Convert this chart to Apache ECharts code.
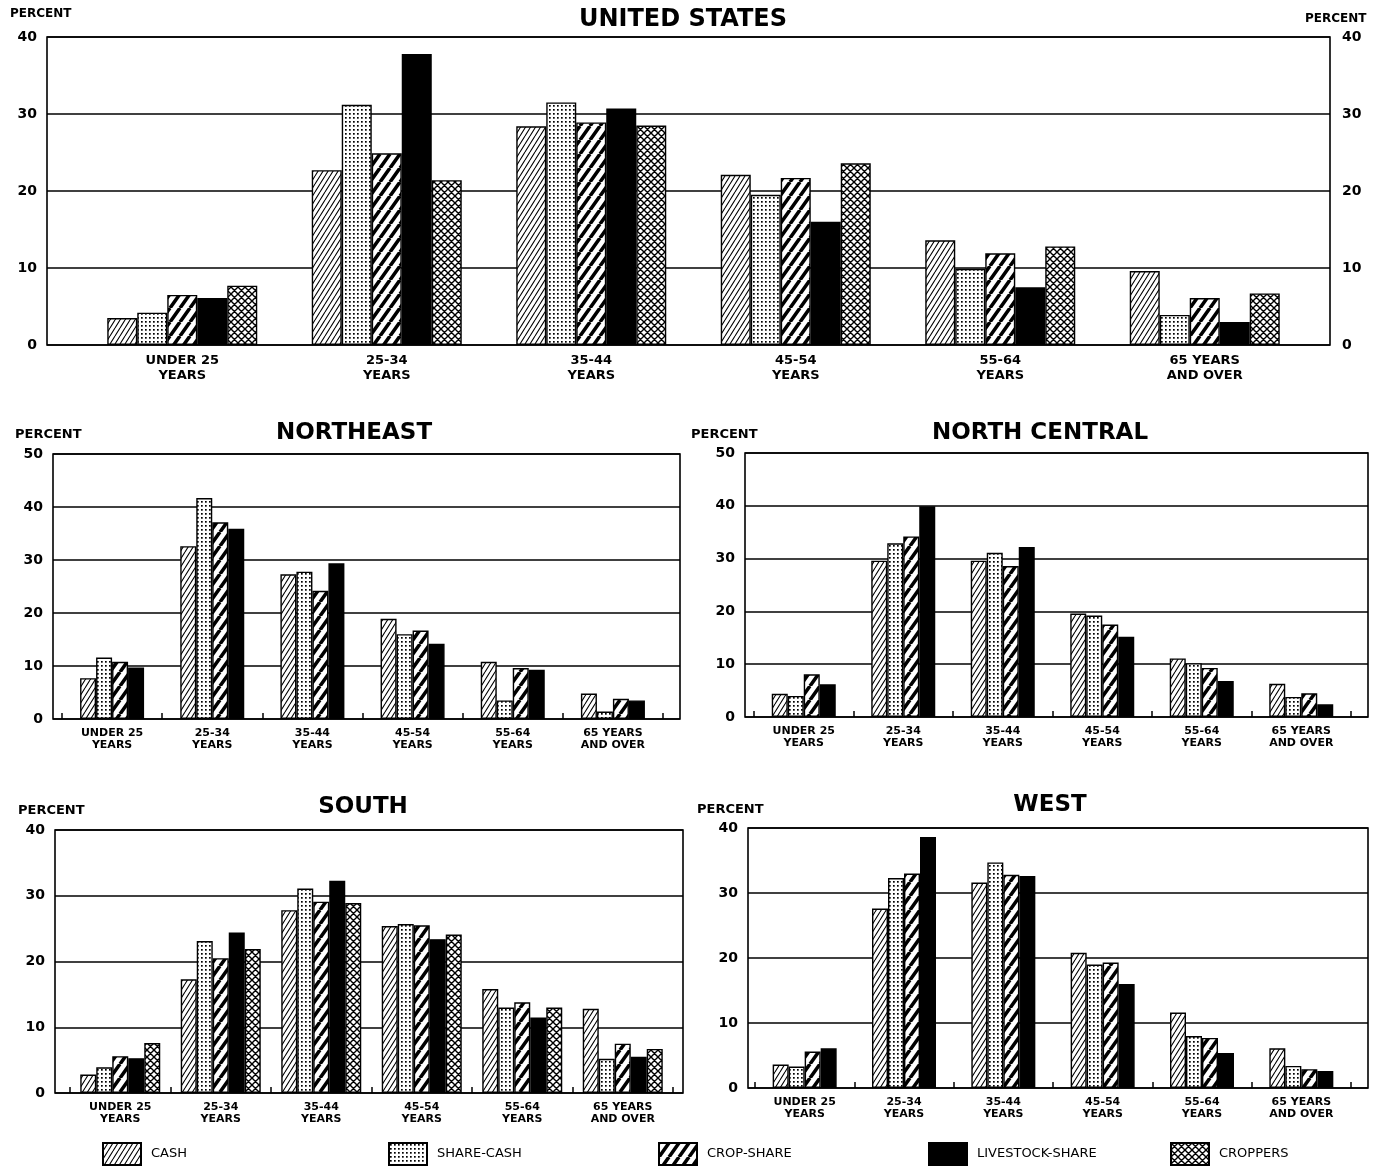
<!DOCTYPE html>
<html>
<head>
<meta charset="utf-8">
<script src="https://cdn.jsdelivr.net/npm/echarts@6/dist/echarts.min.js"></script>
<style>
html,body{margin:0;padding:0;background:#fff;}
#chart{width:1378px;height:1166px;}
</style>
</head>
<body>
<div id="chart"></div>
<script>
// ---- data ----
const categories = ['UNDER 25\nYEARS', '25-34\nYEARS', '35-44\nYEARS', '45-54\nYEARS', '55-64\nYEARS', '65 YEARS\nAND OVER'];
const tenureNames = ['CASH', 'SHARE-CASH', 'CROP-SHARE', 'LIVESTOCK-SHARE', 'CROPPERS'];
const panelTitles = ['UNITED STATES', 'NORTHEAST', 'NORTH CENTRAL', 'SOUTH', 'WEST'];
const axisMax = [40, 50, 50, 40, 40];
const axisStep = 10;

const usCash      = [3.5, 22.7, 28.4, 22.1, 13.6, 9.6];
const usShareCash = [4.2, 31.2, 31.5, 19.5, 9.9, 3.9];
const usCropShare = [6.5, 24.9, 28.9, 21.7, 11.9, 6.1];
const usLivestock = [6.1, 37.8, 30.7, 16.0, 7.5, 3.0];
const usCroppers  = [7.7, 21.4, 28.5, 23.6, 12.8, 6.7];

const neCash      = [7.7, 32.6, 27.3, 18.9, 10.8, 4.8];
const neShareCash = [11.6, 41.7, 27.8, 16.0, 3.5, 1.4];
const neCropShare = [10.8, 37.1, 24.2, 16.7, 9.6, 3.8];
const neLivestock = [9.7, 35.9, 29.4, 14.2, 9.3, 3.5];

const ncCash      = [4.4, 29.6, 29.6, 19.6, 11.1, 6.3];
const ncShareCash = [4.0, 32.9, 31.1, 19.2, 10.2, 3.8];
const ncCropShare = [8.1, 34.2, 28.6, 17.5, 9.3, 4.5];
const ncLivestock = [6.2, 39.9, 32.2, 15.2, 6.8, 2.4];

const soCash      = [2.8, 17.3, 27.8, 25.4, 15.8, 12.8];
const soShareCash = [3.9, 23.1, 31.1, 25.7, 13.0, 5.2];
const soCropShare = [5.6, 20.5, 29.1, 25.5, 13.8, 7.5];
const soLivestock = [5.3, 24.4, 32.3, 23.4, 11.5, 5.5];
const soCroppers  = [7.6, 21.9, 28.9, 24.1, 13.0, 6.7];

const weCash      = [3.6, 27.6, 31.6, 20.8, 11.6, 6.1];
const weShareCash = [3.3, 32.3, 34.7, 19.0, 8.0, 3.4];
const weCropShare = [5.6, 33.0, 32.8, 19.3, 7.7, 2.9];
const weLivestock = [6.1, 38.6, 32.6, 16.0, 5.4, 2.6];

const panelSeries = [
  [usCash, usShareCash, usCropShare, usLivestock, usCroppers],
  [neCash, neShareCash, neCropShare, neLivestock],
  [ncCash, ncShareCash, ncCropShare, ncLivestock],
  [soCash, soShareCash, soCropShare, soLivestock, soCroppers],
  [weCash, weShareCash, weCropShare, weLivestock]
];

// ---- layout (pixels) ----
const layout = [
  {frame:[47,37,1330,345], band:[80,1307], barW:30, title:[683,8,24], pct:[[10,8,12],[1305,13,12]], catFont:13, catLH:15, catMargin:8, ticks:false},
  {frame:[53,454,680,719], band:[62,663], barW:16, title:[354,422,23], pct:[[15,428,13]], catFont:11, catLH:12, catMargin:8, ticks:true},
  {frame:[745,453,1368,717], band:[754,1351], barW:16, title:[1040,422,23], pct:[[691,428,13]], catFont:11, catLH:12, catMargin:8, ticks:true},
  {frame:[55,830,683,1093], band:[70,673], barW:16, title:[363,796,23], pct:[[18,804,13]], catFont:11, catLH:12, catMargin:8, ticks:true},
  {frame:[748,828,1368,1088], band:[755,1351], barW:16, title:[1050,794,23], pct:[[697,803,13]], catFont:11, catLH:12, catMargin:8, ticks:true}
];
const legendX = [102, 388, 658, 928, 1170];

// ---- patterns ----
function makeCanvas(w, h) {
  const c = document.createElement('canvas');
  c.width = w; c.height = h;
  const g = c.getContext('2d');
  g.fillStyle = '#fff'; g.fillRect(0, 0, w, h);
  g.strokeStyle = '#000'; g.fillStyle = '#000';
  return [c, g];
}
function diag(w, h, lw) {
  const [c, g] = makeCanvas(w, h);
  g.lineWidth = lw;
  g.beginPath();
  for (let k = -1; k <= 1; k++) { g.moveTo(k * w, h); g.lineTo(k * w + w, 0); }
  g.stroke();
  return c;
}
function dots() {
  const [c, g] = makeCanvas(4, 4);
  g.fillRect(1, 1, 1.7, 1.7);
  return c;
}
function cross() {
  const s = 7;
  const [c, g] = makeCanvas(s, s);
  g.lineWidth = 1.4;
  g.beginPath();
  for (let k = -1; k <= 1; k++) {
    g.moveTo(k * s, s); g.lineTo(k * s + s, 0);
    g.moveTo(k * s, 0); g.lineTo(k * s + s, s);
  }
  g.stroke();
  return c;
}
const fills = [
  {image: diag(5, 8, 1.1), repeat: 'repeat'},
  {image: dots(), repeat: 'repeat'},
  {image: diag(10, 14, 3.6), repeat: 'repeat'},
  '#000',
  {image: cross(), repeat: 'repeat'}
];

const FONT = '"DejaVu Sans", sans-serif';
const grids = [], xAxes = [], yAxes = [], series = [], graphics = [];

layout.forEach((L, p) => {
  const [fl, ft, fr, fb] = L.frame;
  grids.push({left: fl, top: ft, width: fr - fl, height: fb - ft, show: true, borderColor: '#000', borderWidth: 1.6, backgroundColor: 'transparent'});
  grids.push({left: L.band[0], top: ft, width: L.band[1] - L.band[0], height: fb - ft});
  xAxes.push({type: 'value', gridIndex: 2 * p, show: false});
  xAxes.push({
    type: 'category', gridIndex: 2 * p + 1, data: categories,
    axisLine: {show: false},
    axisTick: {show: L.ticks, inside: true, length: 6, lineStyle: {color: '#000', width: 1.5}},
    axisLabel: {interval: 0, color: '#000', fontFamily: FONT, fontWeight: 'bold', fontSize: L.catFont, lineHeight: L.catLH, margin: L.catMargin}
  });
  const yLabel = {color: '#000', fontFamily: FONT, fontWeight: 'bold', fontSize: 14, margin: 10};
  yAxes[2 * p] = {
    type: 'value', gridIndex: 2 * p, min: 0, max: axisMax[p], interval: axisStep,
    axisLine: {show: false}, axisTick: {show: false},
    splitLine: {show: true, lineStyle: {color: '#000', width: 1.5}},
    axisLabel: yLabel
  };
  yAxes[2 * p + 1] = {type: 'value', gridIndex: 2 * p + 1, min: 0, max: axisMax[p], show: false, splitLine: {show: false}};
  panelSeries[p].forEach((arr, k) => {
    series.push({
      type: 'bar', name: tenureNames[k], xAxisIndex: 2 * p + 1, yAxisIndex: 2 * p + 1,
      data: arr, barWidth: L.barW, barGap: '0%',
      itemStyle: {color: fills[k], borderColor: '#000', borderWidth: 1.4}
    });
  });
  graphics.push({type: 'text', x: L.title[0], y: L.title[1], style: {text: panelTitles[p], textAlign: 'center', textVerticalAlign: 'top', font: 'bold ' + L.title[2] + 'px ' + FONT, fill: '#000'}});
  L.pct.forEach(pc => {
    graphics.push({type: 'text', x: pc[0], y: pc[1], style: {text: 'PERCENT', textAlign: 'left', textVerticalAlign: 'top', font: 'bold ' + pc[2] + 'px ' + FONT, fill: '#000'}});
  });
});
// right axis of the US panel
yAxes.push({
  type: 'value', gridIndex: 0, position: 'right', min: 0, max: axisMax[0], interval: axisStep,
  axisLine: {show: false}, axisTick: {show: false}, splitLine: {show: false},
  axisLabel: {color: '#000', fontFamily: FONT, fontWeight: 'bold', fontSize: 14, margin: 12}
});

const legends = tenureNames.map((n, i) => ({
  data: [n], left: legendX[i], top: 1142, padding: 0, itemWidth: 38, itemHeight: 22, icon: 'rect',
  selectedMode: false,
  textStyle: {color: '#000', fontFamily: FONT, fontSize: 13, padding: [2, 0, 0, 5]}
}));

const chart = echarts.init(document.getElementById('chart'));
chart.setOption({
  animation: false,
  backgroundColor: '#fff',
  grid: grids, xAxis: xAxes, yAxis: yAxes, series: series,
  legend: legends,
  graphic: graphics
});
</script>
</body>
</html>
